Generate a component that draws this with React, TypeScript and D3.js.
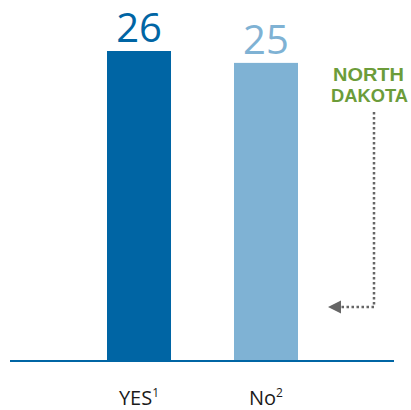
import React from "react";
import * as d3 from "d3";

const categories = ["YES", "No"];
const superscripts = ["1", "2"];
const values = [26, 25];
const barColors = ["#0065a4", "#7fb2d4"];
const annotation = ["NORTH", "DAKOTA"];

export default function App() {
  const W = 411, H = 410;
  const baseY = 360;
  const x = d3.scaleBand<string>().domain(categories).range([43.5, 361.5]).paddingInner(0.496).paddingOuter(0.5);
  const y = d3.scaleLinear().domain([0, 26]).range([baseY, 51]);
  const font = "'Open Sans', 'Noto Sans', sans-serif";
  const annFont = "'Liberation Sans', Arial, sans-serif";
  return (
    <svg width={W} height={H} style={{ position: "absolute", left: 0, top: 0 }}>
      {categories.map((c, i) => (
        <g key={c}>
          <rect x={x(c)} y={y(values[i])} width={x.bandwidth()} height={baseY - y(values[i])} fill={barColors[i]} />
          <text x={x(c)! + x.bandwidth() / 2} y={y(values[i]) - 9} textAnchor="middle" fontFamily={font} fontSize={40} fill={barColors[i]}>{values[i]}</text>
          <text x={x(c)! + x.bandwidth() / 2} y={405} textAnchor="middle" fontFamily={font} fontSize={20} fill="#1a1a1a">
            {c}<tspan fontSize={12} dy={-8}>{superscripts[i]}</tspan>
          </text>
        </g>
      ))}
      <line x1={10} x2={394} y1={baseY + 1} y2={baseY + 1} stroke="#0065a4" strokeWidth={2} />
      <text x={333} y={80.5} textLength={71} lengthAdjust="spacingAndGlyphs" fontFamily={annFont} fontWeight="bold" fontSize={18.5} fill="#6c9c3a">{annotation[0]}</text>
      <text x={331} y={102} textLength={77} lengthAdjust="spacingAndGlyphs" fontFamily={annFont} fontWeight="bold" fontSize={18.5} fill="#6c9c3a">{annotation[1]}</text>
      <path d="M374,112 L374,307 L340,307" fill="none" stroke="#666" strokeWidth={2.5} strokeDasharray="2.5,2.5" />
      <path d="M328,307 L341,300.5 L341,313.5 Z" fill="#666" />
    </svg>
  );
}
